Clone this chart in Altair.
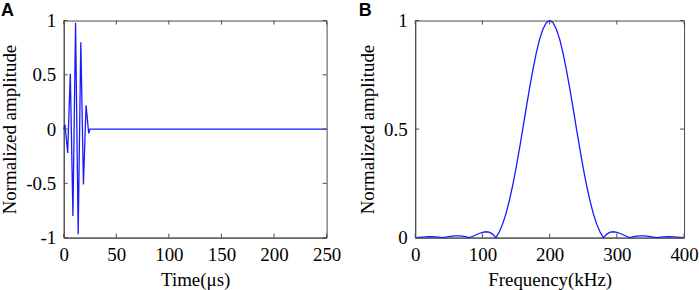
import altair as alt
import pandas as pd

# ---- Panel A: tone-burst excitation in time domain ----
time_us = [0, 1.25, 3.75, 6.25, 8.75, 11.25, 13.75, 16.25, 18.75, 21.25, 23.75, 25, 250]
time_amp = [0, 0.04, -0.22, 0.51, -0.80, 0.98, -0.97, 0.80, -0.51, 0.22, -0.04, 0, 0]

# ---- Panel B: normalized amplitude spectrum ----
freq_khz = [0, 5, 10, 15, 20, 25, 30, 35, 40, 45, 50, 55, 60, 65, 70, 75, 80, 85, 90, 95,
            100, 105, 110, 115, 120, 125, 130, 135, 140, 145, 150, 155, 160, 165, 170, 175,
            180, 185, 190, 195, 200, 205, 210, 215, 220, 225, 230, 235, 240, 245, 250, 255,
            260, 265, 270, 275, 280, 285, 290, 295, 300, 305, 310, 315, 320, 325, 330, 335,
            340, 345, 350, 355, 360, 365, 370, 375, 380, 385, 390, 395, 400]
spec_amp = [0.000, 0.001, 0.002, 0.003, 0.004, 0.004, 0.003, 0.002, 0.000, 0.002, 0.005, 0.007,
            0.008, 0.008, 0.007, 0.004, 0.000, 0.005, 0.012, 0.019, 0.024, 0.027, 0.025, 0.016,
            0.000, 0.026, 0.062, 0.110, 0.170, 0.240, 0.320, 0.408, 0.500, 0.594, 0.686, 0.772,
            0.849, 0.913, 0.960, 0.990, 1.000, 0.990, 0.960, 0.913, 0.849, 0.772, 0.686, 0.594,
            0.500, 0.408, 0.320, 0.240, 0.170, 0.110, 0.062, 0.026, 0.000, 0.016, 0.025, 0.027,
            0.024, 0.019, 0.012, 0.005, 0.000, 0.004, 0.007, 0.008, 0.008, 0.007, 0.005, 0.002,
            0.000, 0.002, 0.003, 0.004, 0.004, 0.003, 0.002, 0.001, 0.000]

time_ticks = [0, 50, 100, 150, 200, 250]
amp_ticks_a = [-1, -0.5, 0, 0.5, 1]
freq_ticks = [0, 100, 200, 300, 400]
amp_ticks_b = [0, 0.5, 1]

FRAME = "#4a4a4a"
LINE = "#1a1aff"
SERIF = "Liberation Serif"
TICK = 4

W_A, W_B, H = 264, 270, 218


def make_axis(values, title, label_pad=8, title_pad=6):
    return alt.Axis(
        values=values, title=title, ticks=False, grid=False,
        domain=True, domainColor=FRAME, domainWidth=1,
        labelExpr="datum.value + ''",
        labelFont=SERIF, labelFontSize=19, labelColor="black",
        labelPadding=label_pad, labelFlush=False, labelOverlap=False,
        titleFont=SERIF, titleFontSize=19, titleFontWeight="normal",
        titleColor="black", titlePadding=title_pad,
    )


def panel(df, xf, yf, xticks, yticks, xdom, ydom, xtitle, ytitle, w, h, label):
    xs = alt.Scale(domain=xdom, nice=False, zero=False)
    ys = alt.Scale(domain=ydom, nice=False, zero=False)
    xa = make_axis(xticks, xtitle)
    ya = make_axis(yticks, ytitle)
    line = alt.Chart(df).mark_line(color=LINE, strokeWidth=1.3).encode(
        x=alt.X(f"{xf}:Q", scale=xs, axis=xa),
        y=alt.Y(f"{yf}:Q", scale=ys, axis=ya),
    )
    # short inward tick rules on all four sides, positioned through the scales
    dx = pd.DataFrame({xf: xticks})
    dy = pd.DataFrame({yf: yticks})
    bx = alt.Chart(dx).mark_rule(color=FRAME, strokeWidth=1)
    by = alt.Chart(dy).mark_rule(color=FRAME, strokeWidth=1)
    xb = bx.encode(x=alt.X(f"{xf}:Q", scale=xs, axis=xa),
                   y=alt.value(h), y2=alt.value(h - TICK))
    xt = bx.encode(x=alt.X(f"{xf}:Q", scale=xs, axis=xa),
                   y=alt.value(0), y2=alt.value(TICK))
    yl = by.encode(y=alt.Y(f"{yf}:Q", scale=ys, axis=ya),
                   x=alt.value(0), x2=alt.value(TICK))
    yr = by.encode(y=alt.Y(f"{yf}:Q", scale=ys, axis=ya),
                   x=alt.value(w), x2=alt.value(w - TICK))
    title_style = dict(anchor="start", frame="bounds", font="Liberation Sans",
                       fontSize=18, fontWeight="bold", color="black", offset=-8)
    return alt.layer(line, xb, xt, yl, yr).properties(
        width=w, height=h, title=alt.TitleParams(label, **title_style))


df_a = pd.DataFrame({"t": time_us, "v": time_amp})
df_b = pd.DataFrame({"f": freq_khz, "v": spec_amp})

chart_a = panel(df_a, "t", "v", time_ticks, amp_ticks_a, [0, 250], [-1, 1],
                "Time(μs)", "Normalized amplitude", W_A, H, "A")
chart_b = panel(df_b, "f", "v", freq_ticks, amp_ticks_b, [0, 400], [0, 1],
                "Frequency(kHz)", "Normalized amplitude", W_B, H, "B")

chart = alt.hconcat(chart_a, chart_b, spacing=16).properties(
    padding={"left": 0, "top": 0, "right": 0, "bottom": 0},
    background="white",
).configure_view(stroke=FRAME, strokeWidth=1)

chart.save("out.html", embed_options={"renderer": "svg", "actions": False})
